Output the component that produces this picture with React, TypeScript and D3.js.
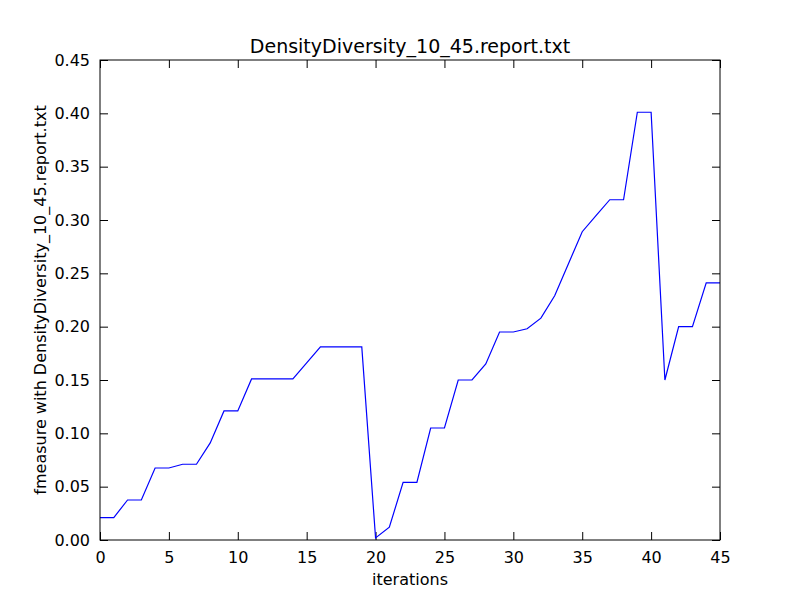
import { useEffect, useRef } from 'react';
import * as d3 from 'd3';

const iterations = d3.range(0, 46);
const fmeasure = [
  0.021, 0.021, 0.0375, 0.0375, 0.0675, 0.0675, 0.071, 0.071, 0.091, 0.121,
  0.121, 0.151, 0.151, 0.151, 0.151, 0.166, 0.181, 0.181, 0.181, 0.181,
  0.002, 0.012, 0.054, 0.054, 0.105, 0.105, 0.15, 0.15, 0.165, 0.195,
  0.195, 0.198, 0.208, 0.229, 0.259, 0.289, 0.304, 0.319, 0.319, 0.401,
  0.401, 0.15, 0.2, 0.2, 0.241, 0.241,
];
const xTicks = [0, 5, 10, 15, 20, 25, 30, 35, 40, 45];
const yTicks = d3.range(0, 0.4501, 0.05);

export default function App() {
  const ref = useRef<SVGSVGElement>(null);

  useEffect(() => {
    const svg = d3.select(ref.current);
    svg.selectAll('*').remove();
    const M = { left: 100, top: 60, right: 80, bottom: 60 };
    const W = 800, H = 600;
    const iW = W - M.left - M.right, iH = H - M.top - M.bottom;
    const font = 'DejaVu Sans';

    svg.append('rect').attr('width', W).attr('height', H).attr('fill', '#fff');
    const root = svg.append('g').attr('transform', `translate(${M.left},${M.top})`);

    const x = d3.scaleLinear().domain([0, 45]).range([0, iW]);
    const y = d3.scaleLinear().domain([0, 0.45]).range([iH, 0]);

    const style = (g: d3.Selection<SVGGElement, unknown, null, undefined>) => {
      g.select('.domain').remove();
      g.selectAll('.tick line').attr('stroke', '#000');
      g.selectAll('.tick text').attr('font-family', font).attr('font-size', 16).attr('fill', '#000');
    };

    root.append('g').attr('transform', `translate(0,${iH})`)
      .call(d3.axisBottom(x).tickValues(xTicks).tickSizeInner(-8).tickSizeOuter(0).tickPadding(12))
      .call(style);
    root.append('g')
      .call(d3.axisTop(x).tickValues(xTicks).tickSizeInner(-8).tickSizeOuter(0).tickFormat(() => ''))
      .call(style);
    root.append('g')
      .call(d3.axisLeft(y).tickValues(yTicks).tickSizeInner(-8).tickSizeOuter(0).tickPadding(10).tickFormat(d3.format('.2f')))
      .call(style);
    root.append('g').attr('transform', `translate(${iW},0)`)
      .call(d3.axisRight(y).tickValues(yTicks).tickSizeInner(-8).tickSizeOuter(0).tickFormat(() => ''))
      .call(style);

    const line = d3.line<number>().x((_, i) => x(iterations[i])).y(d => y(d));
    root.append('path').datum(fmeasure)
      .attr('fill', 'none').attr('stroke', '#0000ff').attr('stroke-width', 1.2)
      .attr('d', line);

    root.append('rect').attr('width', iW).attr('height', iH)
      .attr('fill', 'none').attr('stroke', '#000').attr('stroke-width', 1);

    svg.append('text').attr('x', M.left + iW / 2).attr('y', 53)
      .attr('text-anchor', 'middle').attr('font-family', font).attr('font-size', 19)
      .text('DensityDiversity_10_45.report.txt');
    svg.append('text').attr('x', M.left + iW / 2).attr('y', 585)
      .attr('text-anchor', 'middle').attr('font-family', font).attr('font-size', 16)
      .text('iterations');
    svg.append('text').attr('transform', `translate(46,${M.top + iH / 2}) rotate(-90)`)
      .attr('text-anchor', 'middle').attr('font-family', font).attr('font-size', 16)
      .text('fmeasure with DensityDiversity_10_45.report.txt');
  }, []);

  return (
    <svg ref={ref} width={800} height={600}
      style={{ position: 'absolute', left: 0, top: 0, display: 'block' }} />
  );
}
